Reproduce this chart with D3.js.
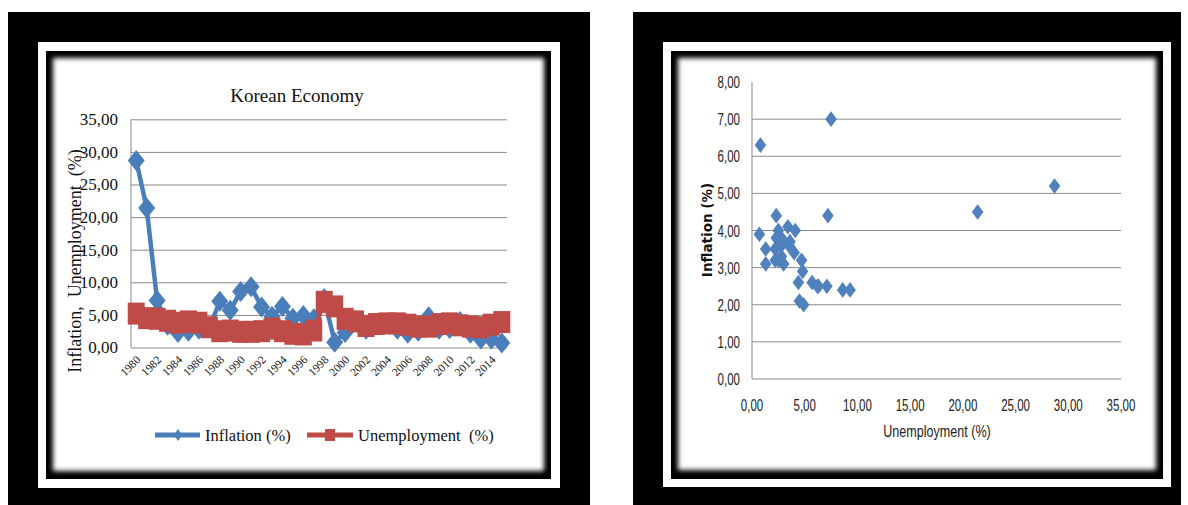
<!DOCTYPE html>
<html>
<head>
<meta charset="utf-8">
<script src="https://cdn.jsdelivr.net/npm/d3@7"></script>
<style>
  body { margin: 0; background: #ffffff; }
  svg { display: block; }
</style>
</head>
<body>
<svg id="chart" width="1188" height="505"></svg>
<script>
// Korean economy, 1980-2015
const years = [1980, 1981, 1982, 1983, 1984, 1985, 1986, 1987, 1988, 1989,
               1990, 1991, 1992, 1993, 1994, 1995, 1996, 1997, 1998, 1999,
               2000, 2001, 2002, 2003, 2004, 2005, 2006, 2007, 2008, 2009,
               2010, 2011, 2012, 2013, 2014, 2015];
const inflation = [28.7, 21.4, 7.2, 3.4, 2.3, 2.5, 2.8, 3.0, 7.1, 5.7,
                   8.6, 9.3, 6.2, 4.8, 6.3, 4.5, 4.9, 4.4, 7.5, 0.8,
                   2.3, 4.1, 2.8, 3.5, 3.6, 2.8, 2.2, 2.5, 4.7, 2.8,
                   2.9, 4.0, 2.2, 1.3, 1.3, 0.7];
const unemployment = [5.2, 4.5, 4.4, 4.1, 3.8, 4.0, 3.8, 3.1, 2.5, 2.6,
                      2.4, 2.4, 2.5, 2.9, 2.5, 2.1, 2.0, 2.6, 7.0, 6.3,
                      4.4, 4.0, 3.3, 3.6, 3.7, 3.7, 3.5, 3.2, 3.2, 3.6,
                      3.7, 3.4, 3.2, 3.1, 3.5, 3.9];
const yearLabels = [1980, 1982, 1984, 1986, 1988, 1990, 1992, 1994, 1996,
                    1998, 2000, 2002, 2004, 2006, 2008, 2010, 2012, 2014];
const lineTicks = [0, 5, 10, 15, 20, 25, 30, 35];
const scatterXTicks = [0, 5, 10, 15, 20, 25, 30, 35];
const scatterYTicks = [0, 1, 2, 3, 4, 5, 6, 7, 8];
const seriesNames = ["Inflation (%)", "Unemployment  (%)"];
const chartTitle = "Korean Economy";
const lineYTitle = "Inflation,  Unemployment  (%)";
const scatterXTitle = "Unemployment (%)";
const scatterYTitle = "Inflation (%)";

const BLUE = "#4A7EBB", RED = "#BE4B48", SCATTER_BLUE = "#4F81BD", GRID = "#8a8a8a";

// decimal comma number format
const locale = d3.formatLocale({ decimal: ",", thousands: ".", grouping: [3], currency: ["", ""] });
const fmt = locale.format(".2f");

const svg = d3.select("#chart");
const defs = svg.append("defs");
defs.append("filter").attr("id", "soft")
  .attr("x", "-10%").attr("y", "-10%").attr("width", "120%").attr("height", "120%")
  .append("feGaussianBlur").attr("stdDeviation", 2.5);

// Double black picture frame with a soft-edged white sheet inside
function drawFrame(id, outer, band, inner, paper) {
  const g = svg.append("g");
  const box = (b, fill) => g.append("rect")
    .attr("x", b[0]).attr("y", b[1]).attr("width", b[2] - b[0]).attr("height", b[3] - b[1])
    .attr("fill", fill);
  box(outer, "#000");
  box(band, "#fff");
  box(inner, "#000");
  defs.append("clipPath").attr("id", id).append("rect")
    .attr("x", inner[0]).attr("y", inner[1])
    .attr("width", inner[2] - inner[0]).attr("height", inner[3] - inner[1]);
  g.append("g").attr("clip-path", `url(#${id})`)
    .append("rect")
    .attr("x", paper[0]).attr("y", paper[1])
    .attr("width", paper[2] - paper[0]).attr("height", paper[3] - paper[1])
    .attr("fill", "#fff").attr("filter", "url(#soft)");
}

drawFrame("clipL", [8, 12, 590, 505], [38, 42, 560, 488], [46, 51, 551, 479], [53, 58, 544, 471]);
drawFrame("clipR", [633, 12, 1181, 505], [663, 42, 1171, 487], [671, 51, 1163, 479], [678, 58, 1156, 470]);

// ---------- Line chart ----------
const xL = d3.scaleBand().domain(years).range([131, 507]).padding(0);
const yL = d3.scaleLinear().domain([0, 35]).range([347.5, 119.3]);
const cx = yr => xL(yr) + xL.bandwidth() / 2;
const serif = "'Liberation Serif', 'Times New Roman', serif";

const left = svg.append("g");

// horizontal gridlines with value labels
const yAxisL = left.append("g").attr("transform", "translate(131,0)")
  .call(d3.axisLeft(yL).tickValues(lineTicks).tickSize(-(507 - 131)).tickPadding(13).tickFormat(fmt));
yAxisL.select(".domain").remove();
yAxisL.selectAll(".tick line").attr("stroke", GRID).attr("stroke-width", 1);
yAxisL.selectAll(".tick text").attr("font-family", serif).attr("font-size", 17).attr("fill", "#111");
left.append("line").attr("x1", 131).attr("x2", 131).attr("y1", yL(35)).attr("y2", yL(0))
  .attr("stroke", GRID);

// category labels, slanted
const xAxisL = left.append("g").attr("transform", `translate(0,${yL(0)})`)
  .call(d3.axisBottom(xL).tickValues(yearLabels).tickSize(0));
xAxisL.select(".domain").remove();
xAxisL.selectAll(".tick text")
  .attr("font-family", serif).attr("font-size", 11.5).attr("fill", "#111")
  .attr("text-anchor", "end")
  .attr("x", 0).attr("y", 0).attr("dy", 0)
  .attr("transform", "translate(5,13) rotate(-45)");

left.append("text").attr("x", 297).attr("y", 102).attr("text-anchor", "middle")
  .attr("font-family", serif).attr("font-size", 19).attr("fill", "#111").text(chartTitle);

left.append("text").attr("transform", "translate(81,261) rotate(-90)")
  .attr("text-anchor", "middle").attr("font-family", serif).attr("font-size", 18)
  .attr("fill", "#111").style("white-space", "pre").text(lineYTitle);

const lineGen = vals => d3.line().x((d, i) => cx(years[i])).y(d => yL(d))(vals);
const diamond = (hw, hh) => `M0,${-hh}L${hw},0L0,${hh}L${-hw},0Z`;

// inflation series
left.append("path").attr("d", lineGen(inflation)).attr("fill", "none")
  .attr("stroke", BLUE).attr("stroke-width", 4.5).attr("stroke-linejoin", "round");
left.append("g").selectAll("path").data(inflation).join("path")
  .attr("d", diamond(8.5, 10.5))
  .attr("transform", (d, i) => `translate(${cx(years[i])},${yL(d)})`)
  .attr("fill", BLUE);

// unemployment series
left.append("path").attr("d", lineGen(unemployment)).attr("fill", "none")
  .attr("stroke", RED).attr("stroke-width", 4.5).attr("stroke-linejoin", "round");
left.append("g").selectAll("rect").data(unemployment).join("rect")
  .attr("x", (d, i) => cx(years[i]) - 8.5).attr("y", d => yL(d) - 11)
  .attr("width", 17).attr("height", 22).attr("fill", RED);

// legend
const legend = left.append("g");
legend.append("line").attr("x1", 155).attr("x2", 200).attr("y1", 435).attr("y2", 435)
  .attr("stroke", BLUE).attr("stroke-width", 5);
legend.append("path").attr("d", diamond(4, 6)).attr("transform", "translate(178,435)").attr("fill", BLUE);
legend.append("text").attr("x", 205).attr("y", 441).attr("font-family", serif).attr("font-size", 16.5)
  .attr("fill", "#111").text(seriesNames[0]);
legend.append("line").attr("x1", 307).attr("x2", 353).attr("y1", 435).attr("y2", 435)
  .attr("stroke", RED).attr("stroke-width", 5);
legend.append("rect").attr("x", 325).attr("y", 429).attr("width", 10).attr("height", 12).attr("fill", RED);
legend.append("text").attr("x", 358).attr("y", 441).attr("font-family", serif).attr("font-size", 16.5)
  .attr("fill", "#111").style("white-space", "pre").text(seriesNames[1]);

// ---------- Scatter chart ----------
const xS = d3.scaleLinear().domain([0, 35]).range([752, 1121]);
const yS = d3.scaleLinear().domain([0, 8]).range([379, 82]);
const sans = "'Liberation Sans', Arial, sans-serif";
const right = svg.append("g");

right.append("g").selectAll("line").data(scatterYTicks.filter(t => t > 0 && t < 8)).join("line")
  .attr("x1", xS(0)).attr("x2", xS(35)).attr("y1", d => yS(d)).attr("y2", d => yS(d))
  .attr("stroke", GRID);
right.append("line").attr("x1", xS(0)).attr("x2", xS(35)).attr("y1", yS(0)).attr("y2", yS(0)).attr("stroke", GRID);
right.append("line").attr("x1", xS(0)).attr("x2", xS(0)).attr("y1", yS(8)).attr("y2", yS(0)).attr("stroke", GRID);

right.append("g").selectAll("text").data(scatterYTicks).join("text")
  .attr("transform", d => `translate(740,${yS(d) + 6}) scale(0.7,1)`)
  .attr("text-anchor", "end").attr("font-family", sans).attr("font-size", 16.5).attr("fill", "#222")
  .text(fmt);
right.append("g").selectAll("text").data(scatterXTicks).join("text")
  .attr("transform", d => `translate(${xS(d)},411) scale(0.7,1)`)
  .attr("text-anchor", "middle").attr("font-family", sans).attr("font-size", 16.5).attr("fill", "#222")
  .text(fmt);

right.append("text").attr("transform", "translate(937,437) scale(0.74,1)")
  .attr("text-anchor", "middle").attr("font-family", sans).attr("font-size", 17).attr("fill", "#222")
  .text(scatterXTitle);
right.append("text").attr("transform", "translate(712,230) rotate(-90)")
  .attr("text-anchor", "middle").attr("font-family", "'DejaVu Sans', sans-serif")
  .attr("font-weight", "bold").attr("font-size", 13.5).attr("fill", "#111")
  .text(scatterYTitle);

right.append("g").selectAll("path").data(years).join("path")
  .attr("d", diamond(5.8, 7.8))
  .attr("transform", (d, i) => `translate(${xS(inflation[i])},${yS(unemployment[i])})`)
  .attr("fill", SCATTER_BLUE);
</script>
</body>
</html>
